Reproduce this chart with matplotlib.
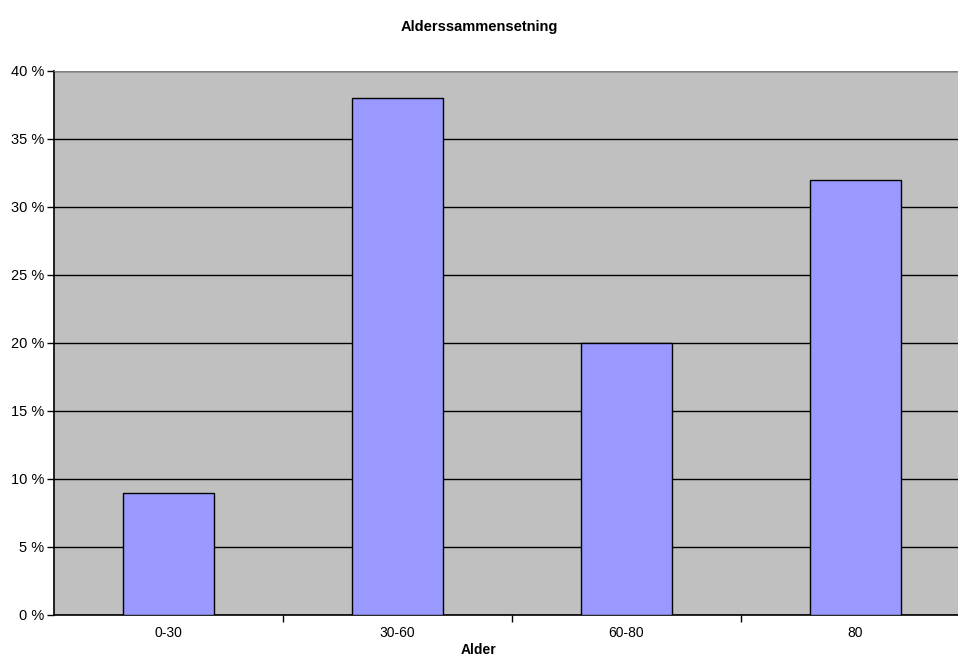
import matplotlib.pyplot as plt
from matplotlib.ticker import FuncFormatter

categories = ["0-30", "30-60", "60-80", "80"]
shares = [9, 38, 20, 32]
y_ticks = [0, 5, 10, 15, 20, 25, 30, 35, 40]

plt.rcParams['font.family'] = ['Liberation Sans', 'DejaVu Sans']

fig = plt.figure(figsize=(9.58, 6.59), dpi=100)
ax = fig.add_axes([54 / 958, 44 / 659, 916 / 958, 544 / 659])
ax.set_facecolor("#C0C0C0")

xs = range(len(categories))
ax.bar(xs, shares, width=0.4, color="#9999FF", edgecolor="black", linewidth=1.0, zorder=3)

ax.set_xlim(-0.5, len(categories) - 0.5)
ax.set_ylim(0, 40)
ax.set_yticks(y_ticks)
ax.yaxis.set_major_formatter(FuncFormatter(lambda v, p: f"{int(v)} %"))
ax.grid(axis="y", color="black", linewidth=1.0, zorder=1)

# category labels sit between boundary ticks
ax.set_xticks([i + 0.5 for i in range(len(categories) - 1)])
ax.set_xticklabels([])
ax.set_xticks(list(xs), minor=True)
ax.set_xticklabels(categories, minor=True)
ax.tick_params(axis="x", which="minor", length=0, pad=8, labelsize=10)
ax.tick_params(axis="x", which="major", direction="out", length=5, width=1)
ax.tick_params(axis="y", direction="out", length=5, width=1, labelsize=10.5, pad=2)

for side in ["top", "right"]:
    ax.spines[side].set_visible(False)
ax.spines["left"].set_linewidth(1.2)
ax.spines["bottom"].set_linewidth(1.2)
ax.axhline(40, color="#808080", linewidth=1.5, zorder=4)

fig.text(0.5, 1 - 27 / 659, "Alderssammensetning", ha="center", va="center",
         fontsize=10.5, fontweight="bold")
fig.text(0.5, 2 / 659, "Alder", ha="center", va="bottom",
         fontsize=10, fontweight="bold")

fig.savefig("out.png", dpi=100)
